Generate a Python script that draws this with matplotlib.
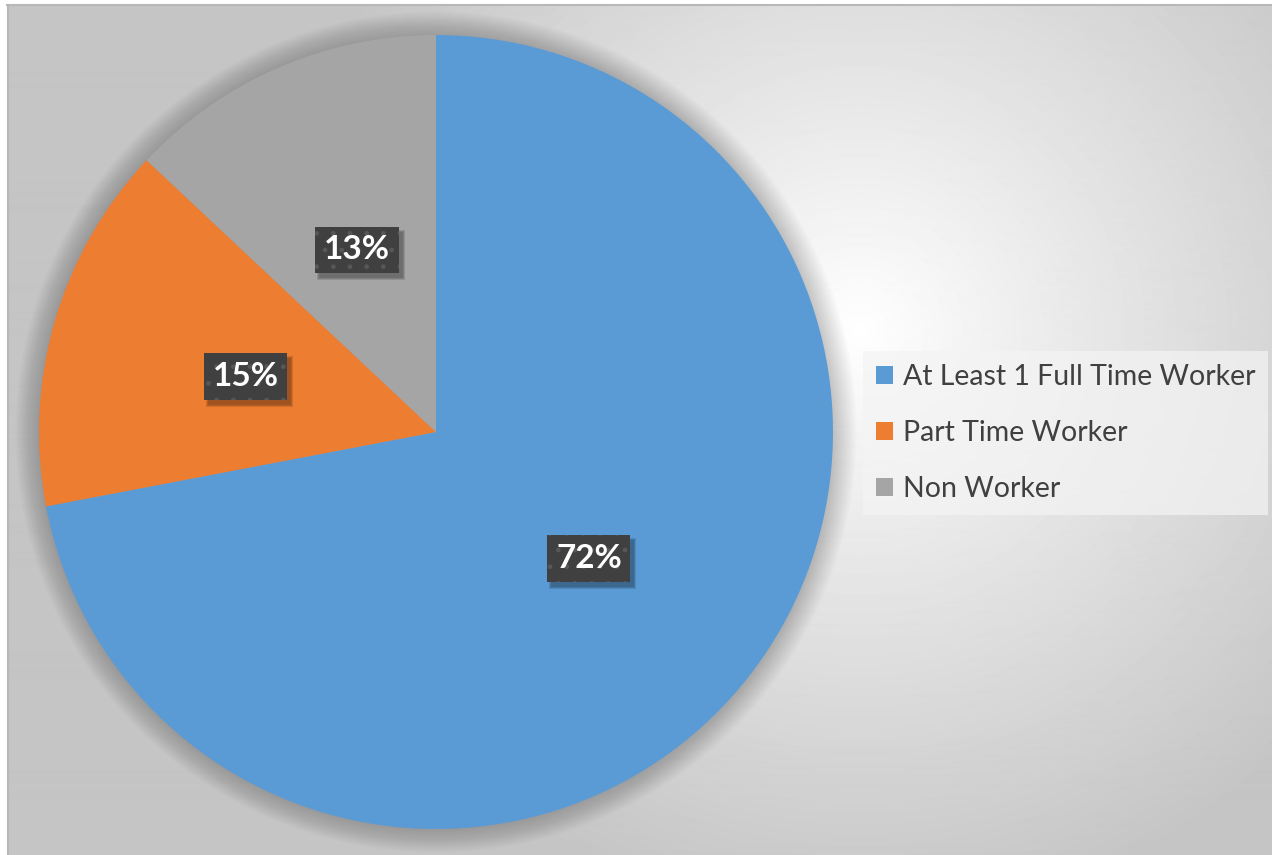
import numpy as np
import matplotlib
matplotlib.use('Agg')
from matplotlib import pyplot as plt
from matplotlib.patches import Circle, Rectangle
from matplotlib.transforms import IdentityTransform

labels = ['At Least 1 Full Time Worker', 'Part Time Worker', 'Non Worker']
shares = [72, 15, 13]
colors = ['#5b9bd5', '#ed7d31', '#a5a5a5']

plt.rcParams['font.family'] = ['Lato', 'DejaVu Sans']
W, H = 1272, 855

fig = plt.figure(figsize=(W / 100, H / 100), dpi=100)
fig.patch.set_facecolor('white')

# background: radial grey gradient, brightest just right of the pie
bg = fig.add_axes([0, 0, 1, 1])
bg.set_xlim(0, W)
bg.set_ylim(H, 0)
bg.axis('off')
yy, xx = np.mgrid[5:H, 7:W]
d = np.hypot(xx - 860, yy - 330)
shade = 1 - 0.23 * np.clip(d / 600, 0, 1) ** 0.95
bg.imshow(shade, cmap='gray', vmin=0, vmax=1, extent=(7, W, H, 5),
          interpolation='bilinear', aspect='auto')
bg.plot([7, W], [5.5, 5.5], color='#b8b8b8', lw=1.5)
bg.plot([7.5, 7.5], [5, H], color='#b8b8b8', lw=1.5)

# pie
R = 397
ax = fig.add_axes([(436 - R) / W, (H - 432 - R) / H, 2 * R / W, 2 * R / H])
for i in range(18):
    ax.add_patch(Circle((0, 0), 1 + i * 0.0035, fc='black', alpha=0.012,
                        lw=0, zorder=0, clip_on=False))

wedges, texts, autotexts = ax.pie(
    shares, colors=colors, startangle=90, counterclock=False, radius=1,
    autopct='%1.0f%%', pctdistance=0.5,
    wedgeprops=dict(linewidth=0),
    textprops=dict(color='white', fontsize=24, fontweight='bold'))
ax.set_xlim(-1, 1)
ax.set_ylim(-1, 1)
ax.axis('off')

for t in autotexts:
    t.set_zorder(5)
    t.set_bbox(dict(boxstyle='square,pad=0.26', facecolor='#404040',
                    edgecolor='#575757', linewidth=0, hatch='.'))

# soft drop shadow under each label box
fig.canvas.draw()
for t in autotexts:
    bb = t.get_bbox_patch().get_window_extent()
    for k, a in enumerate([0.12, 0.12, 0.12]):
        grow = 2 * (2 - k)
        ax.add_patch(Rectangle((bb.x0 + 4 - grow / 2, bb.y0 - 5 - grow / 2),
                               bb.width + grow, bb.height + grow,
                               transform=IdentityTransform(), fc='black',
                               alpha=a, lw=0, zorder=4, clip_on=False))

leg = fig.legend(wedges, labels, loc='center left',
                 bbox_to_anchor=(863 / W, 1 - 433 / H),
                 fontsize=20.5, labelcolor='#404040', frameon=True,
                 fancybox=False, facecolor='#f4f4f4', edgecolor='none',
                 framealpha=0.7, handlelength=0.6, handleheight=0.6,
                 handletextpad=0.35, labelspacing=1.06, borderpad=0.45,
                 borderaxespad=0)

fig.savefig('out.png', dpi=100)
